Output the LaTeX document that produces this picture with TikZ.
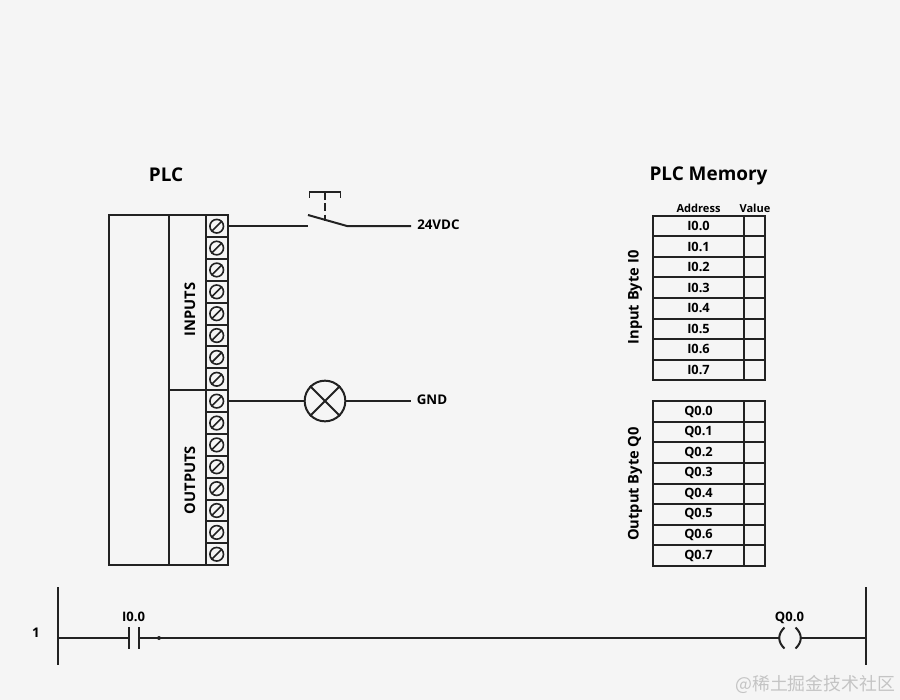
\documentclass[tikz,border=0pt]{standalone}
\usepackage{fontspec}
\setmainfont{Open Sans}[BoldFont={Open Sans Bold}]
\newfontfamily\cjkwm{Noto Sans CJK SC}
\definecolor{bgc}{HTML}{F5F5F5}
\definecolor{ink}{HTML}{222222}
\definecolor{wm}{HTML}{C4C4C4}
\tikzset{
  wire/.style={draw=ink,line width=1.5pt},
  rail/.style={draw=ink,line width=1.6pt},
  boxpart/.style={draw=ink,line width=1.5pt,rectangle,inner sep=0pt,outer sep=0pt},
  term/.style={boxpart,minimum width=16.5pt,minimum height=16.4pt},
  screw/.style={draw=ink,line width=1.2pt,circle,inner sep=0pt,minimum size=10.2pt},
  addrcell/.style={boxpart,minimum width=68.25pt,minimum height=15.42pt,font=\bfseries\fontsize{9.6}{9.6}\selectfont},
  valcell/.style={boxpart,minimum width=15.75pt,minimum height=15.42pt},
  title/.style={font=\bfseries\fontsize{14.2}{14.2}\selectfont,inner sep=0pt},
  wirelabel/.style={font=\bfseries\fontsize{10}{10}\selectfont,inner sep=0pt},
  rungtag/.style={font=\bfseries\fontsize{9.8}{10}\selectfont,inner sep=0pt},
  small/.style={font=\bfseries\fontsize{8.3}{8.3}\selectfont,inner sep=0pt},
  vlabel/.style={font=\bfseries\fontsize{11}{11}\selectfont,inner sep=0pt,rotate=90},
}
\begin{document}
\begin{tikzpicture}[x=0.75pt,y=-0.75pt]
\useasboundingbox[fill=bgc] (0,0) rectangle (900,700);

% PLC body
\node[boxpart,minimum width=45pt,minimum height=262.5pt] (body) at (138.5,390) {};
\node[boxpart,minimum width=28.125pt,minimum height=131.25pt] (inputs) at (187.25,302.5) {};
\node[boxpart,minimum width=28.125pt,minimum height=131.25pt] (outputs) at (187.25,477.5) {};
\node[vlabel] (inlabel) at (190,309.5) {INPUTS};
\node[vlabel] (outlabel) at (190,480) {OUTPUTS};

% Terminals
\foreach \i in {0,...,15}{
  \pgfmathsetmacro{\yy}{226.2+\i*21.87}
  \node[term] (t\i) at (217,\yy) {};
  \node[screw] (s\i) at (216.7,\yy) {};
  \draw[draw=ink,line width=1.2pt] (s\i.225) -- (s\i.45);
}

% Titles
\node[title] (plctitle) at (166,174.5) {PLC};
\node[title] (memtitle) at (708.5,175.5) {PLC Memory};
\node[small] (addrh) at (698.5,208.5) {Address};
\node[small] (valh) at (755,208.5) {Value};

% Input memory
\foreach \i in {0,...,7}{
  \pgfmathsetmacro{\yy}{226+\i*20.56}
  \node[addrcell] (ia\i) at (698.5,\yy) {I0.\i};
  \node[valcell] (iv\i) at (754.5,\yy) {};
}
% Output memory
\foreach \i in {0,...,7}{
  \pgfmathsetmacro{\yy}{411.6+\i*20.56}
  \node[addrcell] (qa\i) at (698.5,\yy) {Q0.\i};
  \node[valcell] (qv\i) at (754.5,\yy) {};
}
\node[vlabel] (inbyte) at (635,297.5) {Input Byte I0};
\node[vlabel] (outbyte) at (635,484) {Output Byte Q0};

% Push button
\coordinate (swl) at (307.5,226);
\coordinate (swr) at (347,226);
\coordinate (swend) at (411,226);
\coordinate (bladetop) at (308,215);
\coordinate (stemtop) at (325,192);
\coordinate (stembot) at (325,221);
\node[wirelabel,anchor=west] (v24) at (417,225) {24VDC};
\draw[wire] (t0.east |- swl) -- (swl);
\draw[wire] (bladetop) -- (swr) -- (swend);
\draw[wire,dash pattern=on 6pt off 2.5pt] (stemtop) -- (stembot);
\draw[draw=ink,line width=1.3pt] (309.5,197.5) -- (309.5,192) -- (340.5,192) -- (340.5,197.5);

% Lamp
\node[draw=ink,line width=1.5pt,circle,minimum size=30.5pt,inner sep=0pt] (lamp) at (325,401) {};
\draw[wire] (lamp.45) -- (lamp.225) (lamp.135) -- (lamp.315);
\coordinate (lampend) at (411,401);
\node[wirelabel,anchor=west] (gnd) at (416.5,400) {GND};
\draw[wire] (t8.east |- lamp.west) -- (lamp.west);
\draw[wire] (lamp.east) -- (lampend);

% Ladder rung
\coordinate (lrt) at (58,587);
\coordinate (lrb) at (58,665);
\coordinate (rrt) at (866,587);
\coordinate (rrb) at (866,665);
\coordinate (lr) at (58,638);
\coordinate (rr) at (866,638);
\coordinate (c1) at (128.5,638);
\coordinate (c2) at (139,638);
\coordinate (cl) at (779,638);
\coordinate (cr) at (801,638);
\draw[rail] (lrt) -- (lrb);
\draw[rail] (rrt) -- (rrb);
\draw[wire] (lr) -- (c1);
\draw[wire] (c2) -- (cl);
\draw[wire] (cr) -- (rr);
\draw[wire] (128.5,627) -- (128.5,649);
\draw[wire] (139,627) -- (139,649);
\fill[ink] (159,638) circle (2);
\draw[wire] (784.5,627.5) .. controls (777.5,634) and (777.5,642) .. (784.5,648.5);
\draw[wire] (795.5,627.5) .. controls (802.5,634) and (802.5,642) .. (795.5,648.5);
\node[wirelabel] (rungno) at (36,633) {1};
\node[rungtag] (i00) at (133.5,617) {I0.0};
\node[rungtag] (q00) at (789.5,617.5) {Q0.0};

% Watermark
\node[text=wm,inner sep=0pt,anchor=west,font=\cjkwm\fontsize{13.4}{14}\selectfont] (mark) at (735,684) {@稀土掘金技术社区};
\end{tikzpicture}
\end{document}
